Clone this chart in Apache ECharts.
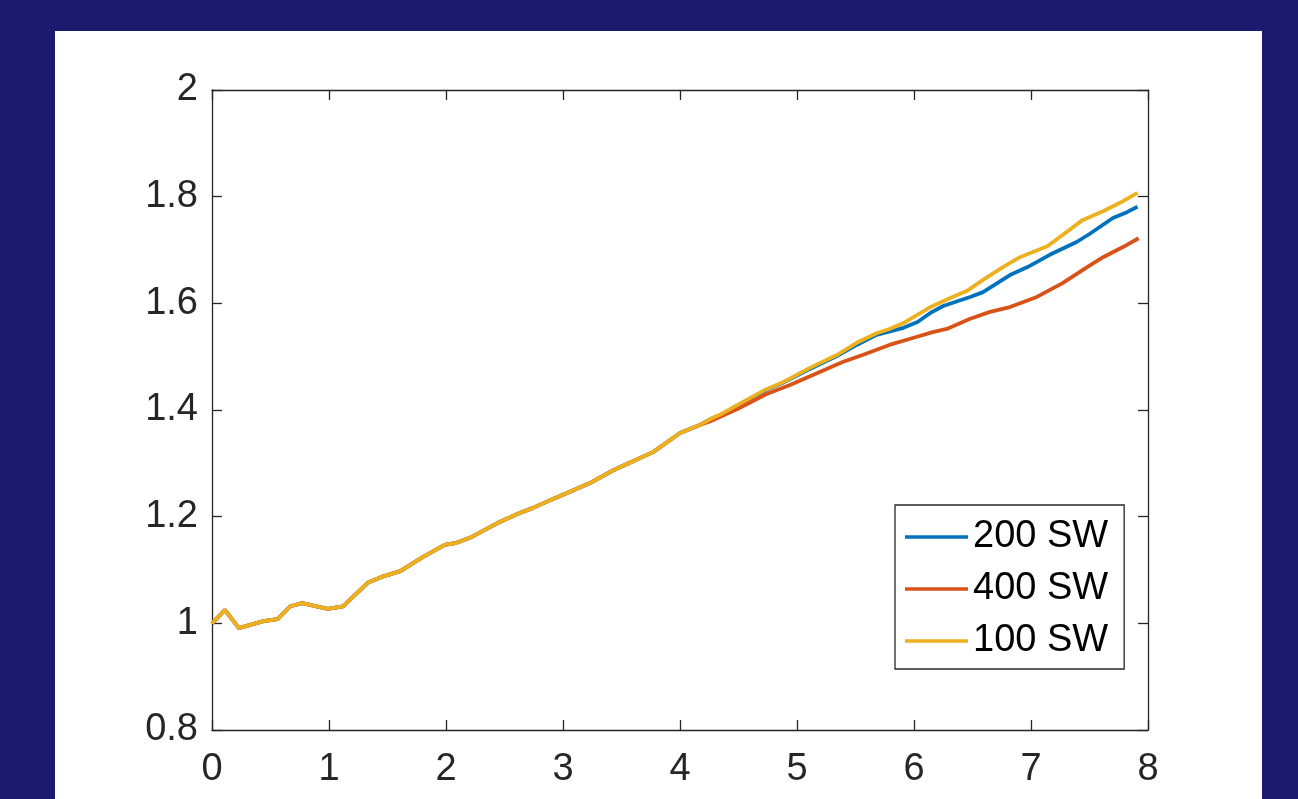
<!DOCTYPE html>
<html>
<head>
<meta charset="utf-8">
<script src="https://cdn.jsdelivr.net/npm/echarts@6/dist/echarts.min.js"></script>
<style>
html,body{margin:0;padding:0;background:#1b1a6e;}
#chart{width:1298px;height:799px;}
</style>
</head>
<body>
<div id="chart"></div>
<script>
// Shared early path (all three runs coincide)
const sharedX = [0, 0.11, 0.23, 0.44, 0.56, 0.67, 0.77, 0.99, 1.12, 1.33, 1.45, 1.61, 1.80, 1.99, 2.09, 2.22, 2.44, 2.63, 2.74, 2.89, 3.00, 3.23, 3.43, 3.57, 3.77, 4.00, 4.17];
const sharedY = [1.000, 1.025, 0.991, 1.004, 1.008, 1.032, 1.038, 1.027, 1.032, 1.076, 1.087, 1.098, 1.124, 1.147, 1.151, 1.162, 1.188, 1.207, 1.216, 1.231, 1.241, 1.263, 1.287, 1.301, 1.321, 1.357, 1.372];

// 200 SW tail
const sw200X = [4.26, 4.34, 4.57, 4.74, 4.88, 5.11, 5.34, 5.51, 5.68, 5.91, 6.03, 6.14, 6.25, 6.37, 6.48, 6.59, 6.82, 6.97, 7.16, 7.39, 7.50, 7.70, 7.82, 7.91];
const sw200Y = [1.383, 1.390, 1.418, 1.438, 1.451, 1.477, 1.501, 1.522, 1.541, 1.554, 1.565, 1.582, 1.595, 1.604, 1.612, 1.621, 1.653, 1.668, 1.691, 1.715, 1.730, 1.760, 1.771, 1.781];

// 400 SW tail
const sw400X = [4.26, 4.49, 4.74, 4.94, 5.17, 5.39, 5.56, 5.79, 5.99, 6.16, 6.28, 6.48, 6.65, 6.82, 7.05, 7.27, 7.48, 7.62, 7.79, 7.92];
const sw400Y = [1.379, 1.402, 1.430, 1.447, 1.469, 1.490, 1.503, 1.522, 1.535, 1.546, 1.552, 1.571, 1.584, 1.593, 1.612, 1.638, 1.668, 1.687, 1.706, 1.722];

// 100 SW tail
const sw100X = [4.26, 4.34, 4.57, 4.74, 4.88, 5.11, 5.34, 5.51, 5.68, 5.79, 5.91, 6.14, 6.25, 6.33, 6.45, 6.59, 6.76, 6.91, 7.14, 7.27, 7.44, 7.62, 7.79, 7.91];
const sw100Y = [1.383, 1.391, 1.419, 1.439, 1.452, 1.479, 1.503, 1.526, 1.544, 1.552, 1.563, 1.593, 1.604, 1.612, 1.623, 1.644, 1.668, 1.687, 1.707, 1.728, 1.756, 1.773, 1.792, 1.807];

const seriesNames = ['200 SW', '400 SW', '100 SW'];
const seriesColors = ['#0072BD', '#D95319', '#EDB120'];
const xTicks = [0, 1, 2, 3, 4, 5, 6, 7, 8];
const yTicks = [0.8, 1, 1.2, 1.4, 1.6, 1.8, 2];

function pairs(xs, ys) { return xs.map((x, i) => [x, ys[i]]); }
const data200 = pairs(sharedX.concat(sw200X), sharedY.concat(sw200Y));
const data400 = pairs(sharedX.concat(sw400X), sharedY.concat(sw400Y));
const data100 = pairs(sharedX.concat(sw100X), sharedY.concat(sw100Y));

const FONT = 'Liberation Sans, Arial, Helvetica, sans-serif';
const FS = 38;
const axisCol = '#262626';

const chart = echarts.init(document.getElementById('chart'), null, {renderer: 'canvas'});
const baseAxis = {
  axisLine: {show: true, onZero: false, lineStyle: {color: axisCol, width: 1.3}},
  axisTick: {show: true, inside: true, length: 10, lineStyle: {color: axisCol, width: 1.3}},
  splitLine: {show: false}
};
chart.setOption({
  backgroundColor: '#1b1a6e',
  animation: false,
  graphic: [{
    type: 'rect', z: -10, silent: true,
    shape: {x: 55, y: 31, width: 1207, height: 780},
    style: {fill: '#ffffff'}
  }],
  grid: {left: 212, top: 90, width: 936, height: 640, containLabel: false},
  legend: {
    show: true,
    data: seriesNames,
    orient: 'vertical',
    left: 895, top: 505,
    backgroundColor: '#ffffff',
    borderColor: axisCol, borderWidth: 1.3, borderRadius: 0,
    padding: [13, 16, 9, 10],
    itemWidth: 63, itemHeight: 3.5, itemGap: 14, itemTextGap: 5,
    icon: 'rect',
    textStyle: {fontFamily: FONT, fontSize: FS, color: '#000000'}
  },
  xAxis: [
    Object.assign({}, baseAxis, {
      type: 'value', min: 0, max: 8, interval: 1, position: 'bottom',
      axisLabel: {show: true, margin: 21, fontFamily: FONT, fontSize: FS, color: axisCol,
        formatter: v => String(xTicks.find(t => Math.abs(t - v) < 1e-9) ?? v)}
    }),
    Object.assign({}, baseAxis, {
      type: 'value', min: 0, max: 8, interval: 1, position: 'top',
      axisLabel: {show: false}
    })
  ],
  yAxis: [
    Object.assign({}, baseAxis, {
      type: 'value', min: 0.8, max: 2, interval: 0.2, position: 'left',
      axisLabel: {show: true, margin: 14, fontFamily: FONT, fontSize: FS, color: axisCol,
        formatter: v => { const t = yTicks.find(t => Math.abs(t - v) < 1e-9); return String(t !== undefined ? t : +v.toFixed(1)); }}
    }),
    Object.assign({}, baseAxis, {
      type: 'value', min: 0.8, max: 2, interval: 0.2, position: 'right',
      axisLabel: {show: false}
    })
  ],
  series: [
    {name: seriesNames[0], type: 'line', data: data200, showSymbol: false, symbol: 'none',
     lineStyle: {color: seriesColors[0], width: 3.8}, itemStyle: {color: seriesColors[0]}, z: 2},
    {name: seriesNames[1], type: 'line', data: data400, showSymbol: false, symbol: 'none',
     lineStyle: {color: seriesColors[1], width: 3.8}, itemStyle: {color: seriesColors[1]}, z: 3},
    {name: seriesNames[2], type: 'line', data: data100, showSymbol: false, symbol: 'none',
     lineStyle: {color: seriesColors[2], width: 3.8}, itemStyle: {color: seriesColors[2]}, z: 4}
  ]
});
</script>
</body>
</html>
